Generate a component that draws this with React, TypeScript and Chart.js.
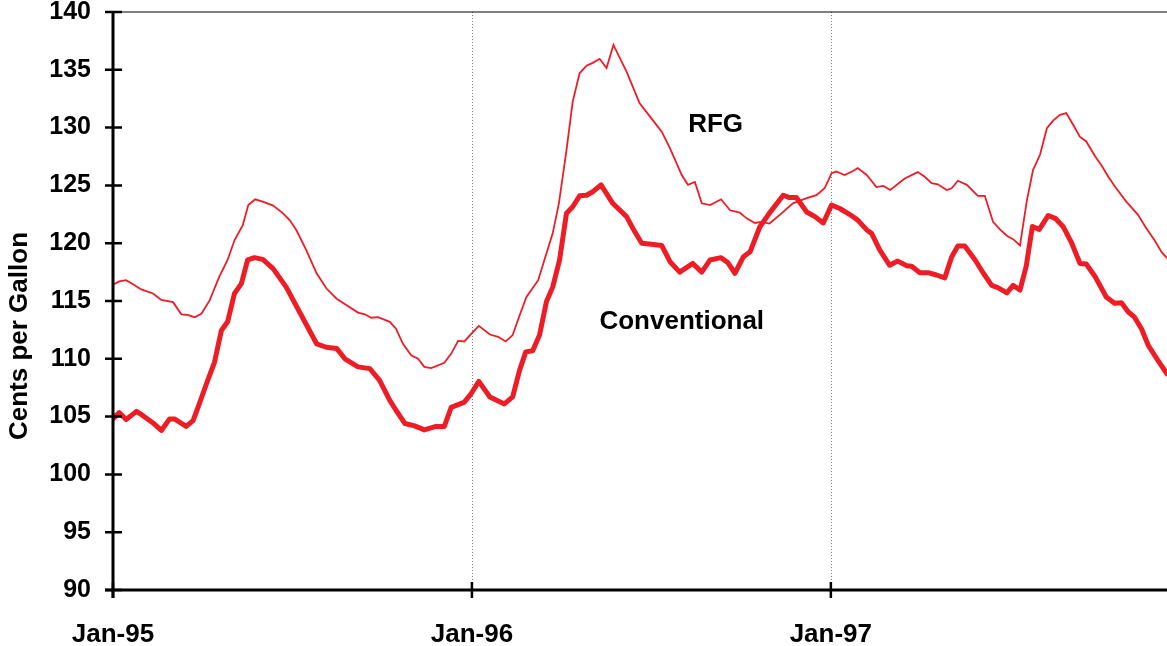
import React, { useEffect, useRef } from 'react';
import { Chart, registerables } from 'chart.js';

Chart.register(...registerables);

// Weeks counted from the first week of January 1995
const rfgWeeks = [0, 0.9, 1.9, 2.9, 4.1, 5.8, 7, 8.7, 9.9, 10.8, 11.8, 12.8, 14, 15.4, 16.6, 17.6, 18.8, 19.6, 20.6, 21.7, 23.2, 24.6, 25.6, 26.6, 28, 29.5, 30.9, 32.4, 33.8, 35.5, 36.5, 37.4, 38.4, 40.1, 41, 42, 43.2, 44.2, 45.1, 46.1, 48, 49, 50, 50.9, 51.9, 53, 54.6, 55.8, 56.9, 57.9, 58.9, 59.9, 61.6, 62.5, 63.7, 64.6, 65.7, 66.6, 67.6, 68.6, 69.5, 70.5, 71.5, 72.5, 74.4, 76.3, 78.2, 79.5, 80.7, 82.4, 83.3, 84.3, 85.3, 86.5, 88.1, 89.4, 90.8, 91.8, 93, 93.9, 95.1, 96.6, 98.5, 100.5, 101.9, 103.1, 104.1, 104.8, 106, 107.2, 107.9, 109.2, 110.6, 111.6, 112.6, 114.7, 116.6, 117.6, 118.6, 119.5, 120.8, 121.5, 122.4, 123.7, 125.3, 126.3, 127.5, 128.5, 129.5, 130.4, 131.4, 132.4, 133.3, 134.3, 135.3, 136.2, 137.2, 138.1, 139.1, 140.1, 141, 142.3, 143.2, 144.2, 145.1, 146.8, 148.5, 149.7, 150.9, 151.9, 152.7];
const rfgCents = [116.4, 116.7, 116.8, 116.45, 116.0, 115.65, 115.1, 114.9, 113.85, 113.8, 113.6, 113.9, 115.05, 117.1, 118.55, 120.25, 121.55, 123.3, 123.8, 123.6, 123.25, 122.6, 122.0, 121.1, 119.4, 117.4, 116.1, 115.2, 114.65, 114.0, 113.85, 113.55, 113.6, 113.2, 112.6, 111.3, 110.3, 110.0, 109.3, 109.2, 109.65, 110.45, 111.55, 111.5, 112.15, 112.85, 112.1, 111.9, 111.5, 112.05, 113.75, 115.35, 116.8, 118.55, 120.85, 123.45, 128.05, 132.25, 134.7, 135.35, 135.6, 135.95, 135.15, 137.15, 134.85, 132.1, 130.65, 129.65, 128.2, 125.9, 125.05, 125.3, 123.45, 123.3, 123.8, 122.85, 122.65, 122.15, 121.75, 121.85, 121.7, 122.45, 123.45, 123.9, 124.15, 124.75, 126.05, 126.2, 125.9, 126.25, 126.5, 125.9, 124.85, 124.95, 124.6, 125.6, 126.15, 125.75, 125.2, 125.1, 124.6, 124.75, 125.4, 125.05, 124.1, 124.1, 121.85, 121.2, 120.65, 120.35, 119.8, 123.7, 126.35, 127.65, 129.95, 130.6, 131.1, 131.25, 130.25, 129.2, 128.8, 127.5, 126.75, 125.75, 124.95, 123.6, 122.45, 121.3, 120.25, 119.25, 118.7];

const convWeeks = [0, 0.9, 1.9, 3.4, 4.3, 5.8, 7, 8.2, 8.9, 10.6, 11.6, 12.5, 13.7, 14.7, 15.7, 16.6, 17.6, 18.6, 19.5, 20.5, 21.7, 23.2, 25.1, 27.3, 29.5, 30.9, 32.4, 33.6, 35.5, 37.2, 38.6, 40.1, 41, 42.3, 43.7, 45.1, 46.8, 48, 49, 50.9, 51.9, 53, 54.6, 56.7, 57.9, 58.9, 59.8, 60.8, 61.8, 62.8, 63.7, 64.7, 65.7, 66.6, 67.6, 68.6, 69.5, 70.7, 72.4, 74.4, 75.3, 76.6, 78, 79.5, 80.7, 82.1, 84, 85.3, 86.5, 88.1, 89.1, 90.1, 91.3, 92.3, 93.7, 95.1, 97.1, 98, 99, 100.5, 101.7, 102.9, 104.1, 105.3, 106.7, 107.9, 109.2, 109.9, 111.1, 112.5, 113.7, 115, 115.7, 116.9, 118.1, 119.3, 120.5, 121.5, 122.4, 123.4, 124.9, 126.1, 127.3, 128.2, 129.5, 130.4, 131.4, 132.3, 133.2, 134.2, 135.5, 136.5, 137.7, 138.9, 140.1, 141, 142.3, 143.9, 145.1, 146.1, 147.1, 148, 149, 150, 151.4, 152.7];
const convCents = [104.8, 105.35, 104.75, 105.45, 105.1, 104.45, 103.8, 104.8, 104.8, 104.15, 104.65, 106.1, 108.1, 109.7, 112.45, 113.2, 115.65, 116.5, 118.55, 118.75, 118.6, 117.8, 116.2, 113.75, 111.3, 111.0, 110.9, 110.0, 109.3, 109.15, 108.15, 106.4, 105.55, 104.4, 104.2, 103.85, 104.15, 104.15, 105.8, 106.25, 107.0, 108.05, 106.7, 106.1, 106.7, 109.0, 110.6, 110.7, 112.05, 114.95, 116.2, 118.55, 122.6, 123.15, 124.1, 124.15, 124.45, 125.05, 123.45, 122.3, 121.3, 120.0, 119.9, 119.8, 118.4, 117.5, 118.25, 117.5, 118.55, 118.75, 118.3, 117.4, 118.8, 119.25, 121.4, 122.6, 124.15, 123.95, 123.95, 122.7, 122.3, 121.75, 123.3, 123.0, 122.5, 122.0, 121.15, 120.85, 119.4, 118.1, 118.45, 118.05, 118.0, 117.45, 117.45, 117.25, 117.0, 118.8, 119.75, 119.75, 118.55, 117.4, 116.35, 116.15, 115.7, 116.35, 115.95, 118.0, 121.45, 121.2, 122.4, 122.15, 121.4, 120.0, 118.25, 118.2, 117.1, 115.35, 114.8, 114.85, 114.05, 113.6, 112.6, 111.15, 109.85, 108.7];

const xTickWeeks = [0, 52, 104];
const xTickLabels = ['Jan-95', 'Jan-96', 'Jan-97'];
const gridWeeks = [52, 104];
const xMaxWeek = 152.7;
const yMin = 90;
const yMax = 140;
const yStep = 5;

const seriesNames = ['RFG', 'Conventional'];
// label anchor points in data units: [week, cents]
const rfgLabelAt = [87.3, 130.4];
const convLabelAt = [82.4, 113.4];
const yTitle = 'Cents per Gallon';

const FONT = '"Liberation Sans", Arial, Helvetica, sans-serif';
const RED = '#EE1D25';

export default function App() {
  const ref = useRef<HTMLCanvasElement>(null);

  useEffect(() => {
    const canvas = ref.current;
    if (!canvas) return;
    const toXY = (xs: number[], ys: number[]) => xs.map((x, i) => ({ x, y: ys[i] }));

    const decor = {
      id: 'decor',
      beforeDatasetsDraw(chart: any) {
        const { ctx, chartArea: a, scales } = chart;
        const x = scales.x;
        ctx.save();
        ctx.strokeStyle = '#808080';
        ctx.lineWidth = 1;
        ctx.setLineDash([1, 2]);
        gridWeeks.forEach((w) => {
          const px = Math.round(x.getPixelForValue(w)) + 0.5;
          ctx.beginPath();
          ctx.moveTo(px, a.top);
          ctx.lineTo(px, a.bottom);
          ctx.stroke();
        });
        ctx.restore();
      },
      afterDatasetsDraw(chart: any) {
        const { ctx, chartArea: a, scales } = chart;
        const x = scales.x;
        const y = scales.y;
        ctx.save();
        // top border
        ctx.strokeStyle = '#000';
        ctx.lineWidth = 1.2;
        ctx.beginPath();
        ctx.moveTo(a.left, a.top);
        ctx.lineTo(a.right, a.top);
        ctx.stroke();
        // axes
        ctx.lineWidth = 3;
        ctx.beginPath();
        ctx.moveTo(a.left, a.top);
        ctx.lineTo(a.left, a.bottom + 8);
        ctx.moveTo(a.left - 8, a.bottom);
        ctx.lineTo(a.right, a.bottom);
        ctx.stroke();
        // tick marks crossing the axes
        ctx.lineWidth = 2.5;
        ctx.beginPath();
        for (let v = yMin; v <= yMax; v += yStep) {
          const py = y.getPixelForValue(v);
          ctx.moveTo(a.left - 8, py);
          ctx.lineTo(a.left + 9, py);
        }
        xTickWeeks.forEach((w) => {
          const px = x.getPixelForValue(w);
          ctx.moveTo(px, a.bottom - 8);
          ctx.lineTo(px, a.bottom + 8);
        });
        ctx.stroke();
        // series labels
        ctx.fillStyle = '#000';
        ctx.font = `bold 26px ${FONT}`;
        ctx.textAlign = 'center';
        ctx.textBaseline = 'alphabetic';
        const cap = 0.358 * 26;
        ctx.fillText(seriesNames[0], x.getPixelForValue(rfgLabelAt[0]), y.getPixelForValue(rfgLabelAt[1]) + cap);
        ctx.fillText(seriesNames[1], x.getPixelForValue(convLabelAt[0]), y.getPixelForValue(convLabelAt[1]) + cap);
        // y axis title
        ctx.translate(27, 336);
        ctx.rotate(-Math.PI / 2);
        ctx.fillText(yTitle, 0, 0);
        ctx.restore();
      },
    };

    const chart = new Chart(canvas, {
      type: 'line',
      data: {
        datasets: [
          {
            label: seriesNames[1],
            data: toXY(convWeeks, convCents),
            borderColor: RED,
            backgroundColor: RED,
            borderWidth: 5,
            pointRadius: 0,
            tension: 0,
            fill: false,
            borderJoinStyle: 'round',
            borderCapStyle: 'round',
          },
          {
            label: seriesNames[0],
            data: toXY(rfgWeeks, rfgCents),
            borderColor: RED,
            backgroundColor: RED,
            borderWidth: 1.8,
            pointRadius: 0,
            tension: 0,
            fill: false,
          },
        ],
      },
      options: {
        responsive: false,
        animation: false,
        devicePixelRatio: 1,
        layout: { padding: { top: 12, right: 0, bottom: 0, left: 0 } },
        plugins: { legend: { display: false }, tooltip: { enabled: false }, title: { display: false } },
        scales: {
          x: {
            type: 'linear',
            min: 0,
            max: xMaxWeek,
            afterBuildTicks: (s: any) => {
              s.ticks = xTickWeeks.map((v) => ({ value: v }));
            },
            afterFit: (s: any) => {
              s.height = 56;
              s.paddingRight = 0;
            },
            grid: { display: false },
            border: { display: false },
            ticks: {
              autoSkip: false,
              maxRotation: 0,
              minRotation: 0,
              padding: 21,
              color: '#000',
              font: { family: FONT, size: 26, weight: 'bold' },
              callback: (v: any) => {
                const i = xTickWeeks.indexOf(Number(v));
                return i >= 0 ? xTickLabels[i] : '';
              },
            },
          },
          y: {
            type: 'linear',
            min: yMin,
            max: yMax,
            afterFit: (s: any) => {
              s.width = 113;
              s.paddingTop = 0;
              s.paddingBottom = 0;
            },
            grid: { display: false },
            border: { display: false },
            ticks: {
              stepSize: yStep,
              padding: 14,
              color: '#000',
              font: { family: FONT, size: 25, weight: 'bold', lineHeight: 1 },
            },
          },
        },
      },
      plugins: [decor],
    } as any);

    return () => chart.destroy();
  }, []);

  return (
    <div style={{ position: 'fixed', left: 0, top: 0, width: 1167, height: 646, background: '#fff' }}>
      <canvas ref={ref} width={1167} height={646} style={{ display: 'block' }} />
    </div>
  );
}
